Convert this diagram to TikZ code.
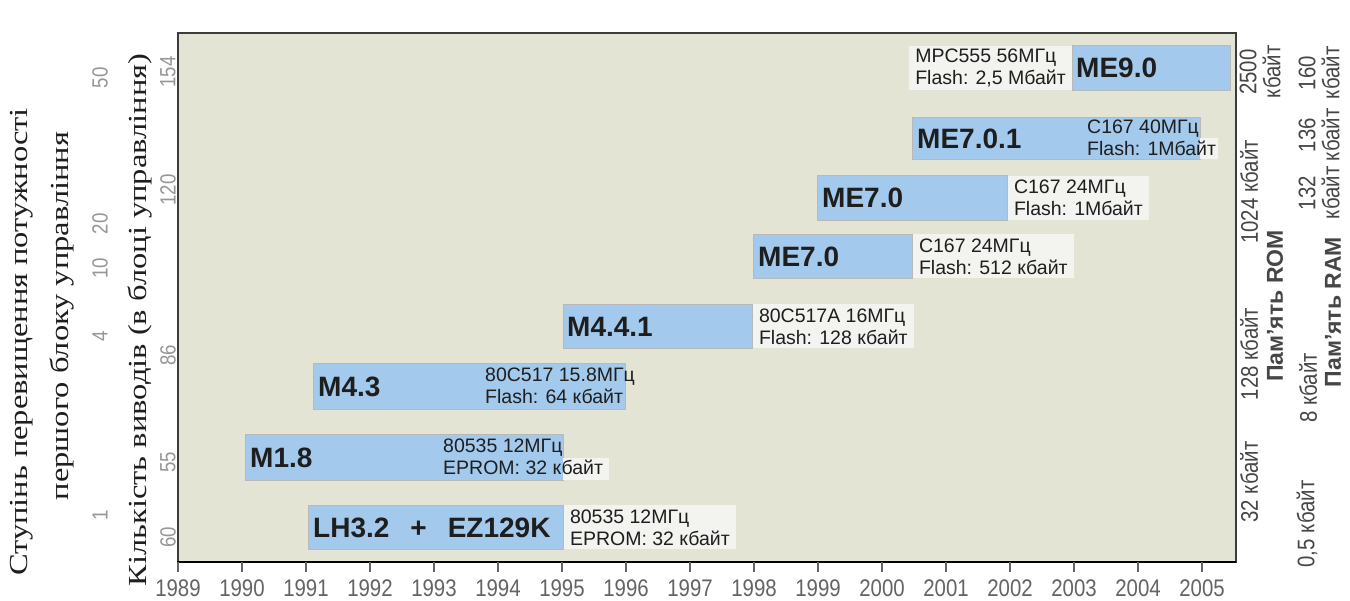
\documentclass[tikz,border=0pt]{standalone}
\usepackage{fontspec}
\setmainfont{Liberation Sans}
\newfontfamily\serifw[FakeStretch=1.25]{Liberation Serif}
\newfontfamily\narrowf[FakeStretch=0.85]{Liberation Sans}
\definecolor{plotbg}{RGB}{228,228,213}
\definecolor{framegray}{RGB}{60,60,60}
\definecolor{barblue}{RGB}{163,201,236}
\definecolor{bargray}{RGB}{185,185,185}
\definecolor{infobg}{RGB}{243,243,240}
\definecolor{txtdark}{RGB}{30,30,30}
\definecolor{numgray}{RGB}{150,150,150}
\definecolor{yeargray}{RGB}{100,100,100}
\definecolor{rightgray}{RGB}{70,70,70}
\begin{document}
\begin{tikzpicture}[x=1pt,y=-1pt,
  bar/.style={rectangle,fill=barblue,draw=bargray,line width=0.8pt,inner sep=0pt,anchor=north west},
  barlabel/.style={anchor=west,inner sep=0pt,text=txtdark,font=\fontsize{28}{32}\selectfont\bfseries},
  info/.style={anchor=west,align=left,inner xsep=6pt,inner ysep=0pt,minimum height=44pt,text=txtdark,font=\fontsize{19.5}{22}\selectfont},
  infobox/.style={info,fill=infobg},
  yearlab/.style={text=yeargray,font=\narrowf\fontsize{24}{26}\selectfont},
  tickmark/.style={draw=yeargray,line width=1.2pt},
  lnum/.style={rotate=90,text=numgray,font=\narrowf\fontsize{22}{24}\selectfont},
  ltitle/.style={rotate=90,text=txtdark,font=\serifw\fontsize{26}{30}\selectfont},
  rlab/.style={rotate=90,align=center,text=rightgray,font=\narrowf\fontsize{24}{24}\selectfont},
  rtitle/.style={rotate=90,text=rightgray,font=\fontsize{23}{26}\selectfont\bfseries}
]
\useasboundingbox[fill=white] (0,0) rectangle (1350,601);
% plot area
\draw[fill=plotbg,draw=framegray,line width=1.5pt] (178,33) rectangle (1236,562);
\coordinate (axl) at (177,562);
\coordinate (axr) at (1236,562);
\draw[line width=2.5pt,black] (axl) -- (axr);
\foreach \i in {0,...,16}{
  \pgfmathtruncatemacro\yr{1989+\i}
  \coordinate (t\i) at (178+\i*64,562);
  \draw[tickmark] (t\i) -- ++(0,10);
  \node[yearlab] (y\i) at (178+\i*64,588) {\yr};
}
% bars
\node[bar,minimum width=255pt,minimum height=44pt] (lh) at (308,505) {};
\node[barlabel] (lhl) at ([xshift=5pt]lh.west) {LH3.2\hspace{21pt}+\hspace{21pt}EZ129K};
\node[infobox] (lhi) at (lh.east) {80535 12МГц\\EPROM: 32 кбайт};

\node[bar,minimum width=318pt,minimum height=46pt] (m18) at (245,434) {};
\fill[infobg] (563,458) rectangle (609,480);
\node[barlabel] (m18l) at ([xshift=5pt]m18.west) {M1.8};
\node[info] (m18i) at (437,457) {80535 12МГц\\EPROM: 32 кбайт};

\node[bar,minimum width=312pt,minimum height=46pt] (m43) at (313,363) {};
\node[barlabel] (m43l) at ([xshift=5pt]m43.west) {M4.3};
\node[info] (m43i) at (479,386) {80C517 15.8МГц\\Flash: 64 кбайт};

\node[bar,minimum width=189pt,minimum height=44pt] (m441) at (563,304) {};
\node[barlabel] (m441l) at ([xshift=4pt]m441.west) {M4.4.1};
\node[infobox] (m441i) at (m441.east) {80C517A 16МГц\\Flash: 128 кбайт};

\node[bar,minimum width=159pt,minimum height=44pt] (me70a) at (753,234) {};
\node[barlabel] (me70al) at ([xshift=5pt]me70a.west) {ME7.0};
\node[infobox] (me70ai) at (me70a.east) {C167 24МГц\\Flash: 512 кбайт};

\node[bar,minimum width=190pt,minimum height=45pt] (me70b) at (817,175) {};
\node[barlabel] (me70bl) at ([xshift=5pt]me70b.west) {ME7.0};
\node[infobox] (me70bi) at (me70b.east) {C167 24МГц\\Flash: 1Мбайт};

\node[bar,minimum width=288pt,minimum height=42pt] (me701) at (912,117) {};
\fill[infobg] (1200,138) rectangle (1218,159);
\node[barlabel] (me701l) at ([xshift=5pt]me701.west) {ME7.0.1};
\node[info] (me701i) at (1081,138) {C167 40МГц\\Flash: 1Мбайт};

\node[bar,minimum width=158pt,minimum height=45pt] (me90) at (1072,45) {};
\node[barlabel] (me90l) at ([xshift=4pt]me90.west) {ME9.0};
\node[infobox,anchor=east] (me90i) at (me90.west) {MPC555 56МГц\\Flash: 2,5 Мбайт};

% left axis texts
\node[ltitle] (lt1) at (22,342) {Ступінь перевищення потужності};
\node[ltitle] (lt2) at (62,316) {першого блоку управління};
\node[ltitle] (lt3) at (140,320) {Кількість виводів (в блоці управління)};
\node[lnum] (a50) at (100,78) {50};
\node[lnum] (a20) at (100,224) {20};
\node[lnum] (a10) at (100,268) {10};
\node[lnum] (a4) at (100,336) {4};
\node[lnum] (a1) at (100,515) {1};
\node[lnum] (b154) at (168,72) {154};
\node[lnum] (b120) at (168,190) {120};
\node[lnum] (b86) at (168,355) {86};
\node[lnum] (b55) at (168,462) {55};
\node[lnum] (b60) at (168,537) {60};

% right axis texts
\node[rlab] (r2500) at (1260,72) {2500\\кбайт};
\node[rlab] (r1024) at (1249,192) {1024 кбайт};
\node[rlab] (r128) at (1249,354) {128 кбайт};
\node[rlab] (r32) at (1249,482) {32 кбайт};
\node[rtitle] (rrom) at (1275,306) {Пам’ять ROM};
\node[rlab] (r160) at (1319,73) {160\\кбайт};
\node[rlab] (r136) at (1319,135) {136\\кбайт};
\node[rlab] (r132) at (1319,193) {132\\кбайт};
\node[rlab] (r8) at (1308,388) {8 кбайт};
\node[rlab] (r05) at (1307,524) {0,5 кбайт};
\node[rtitle] (rram) at (1333,312) {Пам’ять RAM};
\end{tikzpicture}
\end{document}
